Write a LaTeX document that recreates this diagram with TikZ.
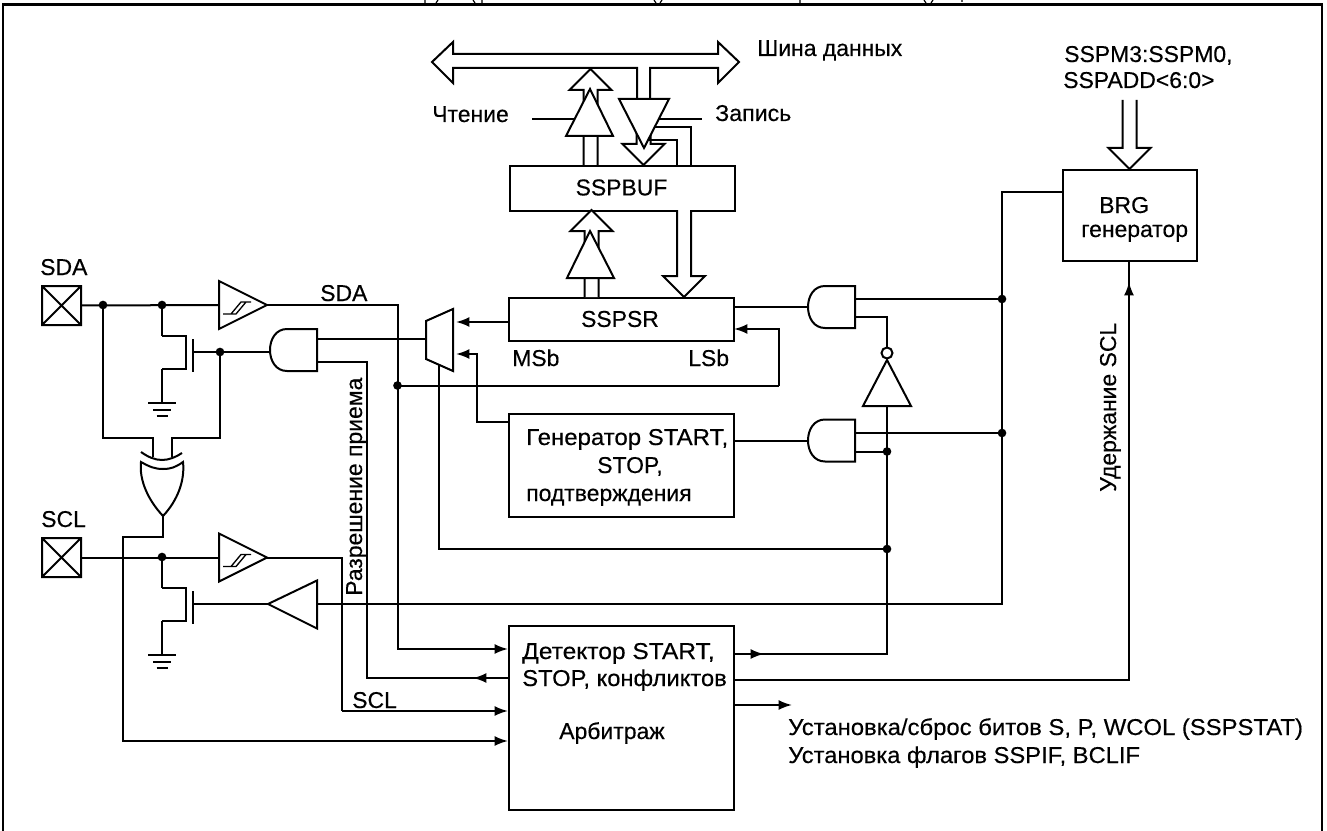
\documentclass[tikz,border=0pt]{standalone}
\usepackage{fontspec}
\usepackage{graphicx}
\setmainfont{Liberation Sans}[RawFeature={embolden=0.35}]
\usetikzlibrary{arrows.meta,calc}
\newcommand\busarrow[3]{\begin{scope}[shift={(#1)},rotate=#2]
  \draw[wire,fill=white] (-7,#3)--(-7,21)--(-21,21)--(0,0)--(21,21)--(7,21)--(7,#3);
\end{scope}}
\newcommand\sx[2]{\scalebox{#1}[1]{#2}}
\tikzset{
  x=0.75pt,y=-0.75pt,
  wire/.style={line width=1.5pt,line join=miter,miter limit=10},
  flow/.style={wire,-{Latex[length=10pt,width=7.5pt]}},
  txt/.style={font=\fontsize{17.2pt}{20pt}\selectfont,inner sep=0pt,anchor=base west},
  box/.style={draw,line width=1.5pt,fill=white,inner sep=0pt,anchor=north west},
  dotn/.style={circle,fill=black,inner sep=0pt,minimum size=6.5pt},
  andgate/.pic={
    \draw[wire,fill=white] (47,-21)--(17,-21) .. controls (6,-21) and (0,-11) .. (0,0) .. controls (0,11) and (6,21) .. (17,21)--(47,21)--cycle;
    \coordinate (-in) at (0,0); \coordinate (-o) at (47,0);},
  schmitt/.pic={
    \draw[wire,fill=white] (0,-24)--(48,0)--(0,24)--cycle;
    \draw[line width=1pt] (4,9)--(17,9)--(27,-3)--(32,-3) (9,9)--(17,9) (12,9)--(22,-3)--(32,-3);
    \coordinate (-in) at (0,0); \coordinate (-out) at (48,0);},
  nmos/.pic={
    \draw[wire] (0,-31)--(24,-31)--(24,2)--(0,2) (31,-28)--(31,5);
    \coordinate (-top) at (0,-31); \coordinate (-bot) at (0,2); \coordinate (-g) at (31,-15);},
  gnd/.pic={\draw[wire] (-14,0)--(14,0) (-9,6.5)--(9,6.5) (-5.5,13)--(5.5,13);},
  padx/.pic={\draw[wire,fill=white] (-19.5,-19.5) rectangle (19.5,19.5) (-19.5,-19.5)--(19.5,19.5) (-19.5,19.5)--(19.5,-19.5);
    \coordinate (-e) at (19.5,0);},
}
\begin{document}
\begin{tikzpicture}
\useasboundingbox (0,0) rectangle (1327,831);
\clip (0,0) rectangle (1327,831);
% frame and the cut-off line above it
\draw[line width=1.9pt] (3,831)--(3,4.5)--(1322,4.5)--(1322,831);
\draw[line width=0.9pt] (425,0)--(425,3) (438,0)--(436,3) (473,0)--(475,3) (482,0)--(482,3) (800,0)--(800,3) (654,0)--(656,3) (662,0)--(660,3) (924,0)--(926,3) (933,0)--(931,3) (962,0)--(962,2);

% named points
\coordinate (sdaJ1) at (103,305); \coordinate (sdaJ2) at (162,305);
\coordinate (sclJ) at (162,557);
\coordinate (gateJ) at (220,352);
\coordinate (xorA) at (153,457); \coordinate (xorB) at (172,457); \coordinate (xorO) at (163,516);
\coordinate (fbJ) at (397.5,385.5);
\coordinate (rJ1) at (1002,299); \coordinate (rJ2) at (1002,433);
\coordinate (iJ1) at (887,451.5); \coordinate (iJ2) at (887,549);
\coordinate (invIn) at (887,406); \coordinate (invOut) at (887,317);
\coordinate (lA) at (0,339); \coordinate (lB) at (0,362);

% boxes
\node[box,minimum width=225pt*0.75,minimum height=45pt*0.75] (buf) at (509,165) {};
\node[txt,anchor=center] (bufT) at (621.5,187.5) {SSPBUF};
\node[box,minimum width=225pt*0.75,minimum height=43pt*0.75] (sr) at (508,297) {};
\node[txt,anchor=center] (srT) at (620,319) {SSPSR};
\node[box,minimum width=225pt*0.75,minimum height=103pt*0.75] (gen) at (508,413) {};
\node[box,minimum width=225pt*0.75,minimum height=184pt*0.75] (det) at (508,625) {};
\node[box,minimum width=134pt*0.75,minimum height=91pt*0.75] (brg) at (1062,169) {};

% pads, gates
\pic (padA) at (61.5,305.5) {padx};
\pic (padC) at (61.5,557.5) {padx};
\pic (stA) at (219,305) {schmitt};
\pic (stC) at (219,557.5) {schmitt};
\pic (qA) at (162,367) {nmos};
\pic (qC) at (162,619) {nmos};
\pic at (162,403) {gnd};
\pic at (162,655) {gnd};
\pic (andL) at (270,350) {andgate};
\pic (andT) at (808,307) {andgate};
\pic (andB) at (808,440.5) {andgate};

% wires at the pads
\draw[wire] (padA-e)--(stA-in);
\draw[wire] (padC-e)--(stC-in);
\draw[wire] (sdaJ2)|-(qA-top);
\draw[wire] (qA-bot)--(162,403);
\draw[wire] (sclJ)|-(qC-top);
\draw[wire] (qC-bot)--(162,655);
\draw[wire] (qA-g)--(andL-in|-qA-g);
\draw[wire] (sdaJ1)--(103,438)-|(xorA);
\draw[wire] (gateJ)--(220,438)-|(xorB);

% XOR gate
\draw[wire,fill=white] (141,462) .. controls (150,467) and (155,469) .. (163,469) .. controls (171,469) and (176,467) .. (183,462)
  .. controls (185,480) and (178,500) .. (xorO) .. controls (148,500) and (139,480) .. (141,462) -- cycle;
\draw[wire] (141,452) .. controls (148,457) and (155,460) .. (162,460) .. controls (169,460) and (176,457) .. (182,453);
\draw[flow] (xorO)--(163,537)-|(123,741)--(det.west|-0,741);

% signals into the detector
\draw[wire] (stA-out)-|(fbJ);
\draw[flow] (fbJ)|-(det.west|-0,649);
\draw[wire] (stC-out)-|(342,711);
\draw[flow] (342,711)--(det.west|-0,711);
\coordinate (enEnd) at (367,678);
\draw[wire] (andL-o|-lB)-|(enEnd)--(det.west|-enEnd);
\draw[flow] (det.west|-enEnd)--(473,678);

% buffers and MOS gate of SCL
\draw[wire] (brg.north west|-0,192)-|(rJ1);
\draw[wire] (rJ1)--(1002,604)--(268,604)--(qC-g);
\draw[wire,fill=white] (317,580.5)--(268,604)--(317,628.5)--cycle;
\draw[wire] (andT-o|-rJ1)--(rJ1);
\draw[wire] (andB-o|-rJ2)--(rJ2);

% multiplexer
\draw[wire] (andL-o|-lA)--(426,339);
\draw[flow] (sr.west|-0,322)--(456,322);
\draw[flow] (gen.west|-0,422)-|(477,354)--(456,354);
\draw[wire,fill=white] (426,321)--(453,309)--(453,371)--(426,359)--cycle;
\draw[wire] (439,365)--(439,549)--(iJ2);

% SSPSR and generator control
\draw[wire] (sr.east|-andT-in)--(andT-in);
\draw[wire] (gen.east|-andB-in)--(andB-in);
\draw[wire] (fbJ)--(779,385.5);
\draw[flow] (779,385.5)--(779,329)--(734,329);

% inverter and its line
\draw[wire] (andT-o|-invOut)-|(887,348);
\draw[wire] (invIn)--(887,654)--(det.east|-0,654);
\draw[flow] (det.east|-0,654)--(764,654);
\draw[wire] (andB-o|-iJ1)--(iJ1);
\draw[wire,fill=white] (887,360)--(911,406)--(863,406)--cycle;
\draw[wire,fill=white] (887,353) circle[radius=5.5];

% detector outputs
\draw[wire] (det.east|-0,680)-|(1129,282);
\draw[flow] (1129,300)--(1129,282);
\draw[wire] (1129,282)--(brg.south-|1129,0);
\coordinate (stOut) at (735,705);
\draw[flow] (stOut)--(792,705);

% data bus
\draw[wire,fill=white] (637,99)--(637,68)--(453,68)--(453,83)--(432,62)--(453,42)--(453,54)--(718,54)--(718,42)--(739,62)--(718,83)--(718,68)--(650,68)--(650,99);
\busarrow{590.5,69}{0}{96}
\busarrow{591.5,210}{0}{87}
\busarrow{643.5,165}{180}{66}
\busarrow{684,297}{180}{87}
\busarrow{1129.5,169}{180}{69}
\draw[wire] (532,119)--(590,119);
\draw[wire] (644,119)--(702,119);
\draw[wire] (650,127)--(691,127)--(691,165);
\draw[wire] (648,140)--(677,140)--(677,165);
\draw[wire,fill=white] (590,89)--(613,136)--(566,136)--cycle;
\draw[wire,fill=white] (590,231)--(614,278)--(567,278)--cycle;
\draw[wire,fill=white] (619,99)--(669,99)--(644,148)--cycle;

% junction dots
\foreach \p in {sdaJ1,sdaJ2,sclJ,gateJ,fbJ,rJ1,rJ2,iJ1,iJ2}
  \node[dotn] at (\p) {};

% labels
\node[txt] (lData) at (757,56) {Шина данных};
\node[txt] (lRead) at (432,122) {Чтение};
\node[txt] (lWrite) at (715,121) {\sx{1.01}{Запись}};
\node[txt] (lM1) at (1064,62) {SSPM3:SSPM0,};
\node[txt] (lM2) at (1063,88) {SSPADD<6:0>};
\node[txt] (lBrg1) at (1099,213) {BRG};
\node[txt] (lBrg2) at (1081,237) {\sx{1.0}{генератор}};
\node[txt] (lSda1) at (40,275) {SDA};
\node[txt] (lScl1) at (41,527) {SCL};
\node[txt] (lSda2) at (320,301) {SDA};
\node[txt] (lScl2) at (352,708) {SCL};
\node[txt] (lMsb) at (512,366) {MSb};
\node[txt] (lLsb) at (688,366) {LSb};
\node[txt] (lG1) at (526,445) {\sx{1.046}{Генератор START,}};
\node[txt] (lG2) at (597,473) {STOP,};
\node[txt] (lG3) at (526,501) {подтверждения};
\node[txt] (lD1) at (522,659) {\sx{1.07}{Детектор START,}};
\node[txt] (lD2) at (522,686) {\sx{1.035}{STOP, конфликтов}};
\node[txt] (lD3) at (559,739) {Арбитраж};
\node[txt] (lSet1) at (788,735) {\sx{1.04}{Установка/сброс битов S, P, WCOL (SSPSTAT)}};
\node[txt] (lSet2) at (788,763) {\sx{1.035}{Установка флагов SSPIF, BCLIF}};
\node[txt,rotate=90] (lEn) at (362,596) {Разрешение приема};
\node[txt,rotate=90] (lHold) at (1116,492) {Удержание SCL};
\end{tikzpicture}
\end{document}
